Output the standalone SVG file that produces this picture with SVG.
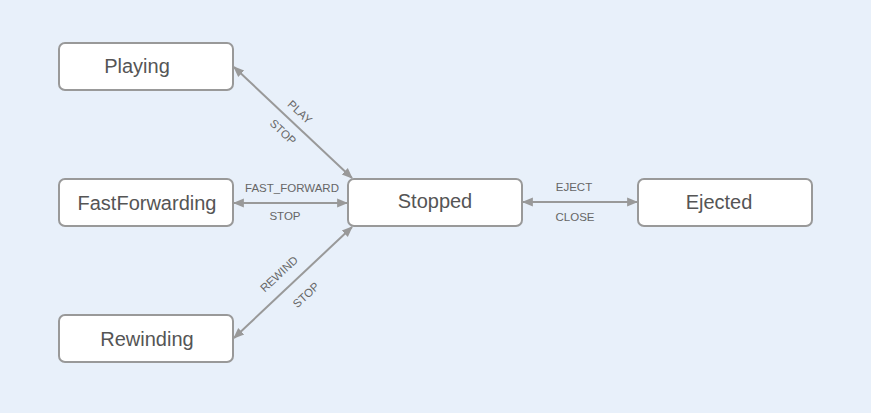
<svg xmlns="http://www.w3.org/2000/svg" width="871" height="413" viewBox="0 0 871 413">
<style>
.node rect{fill:#fff;stroke:#999;stroke-width:2}
.node text{font-family:"Liberation Sans",Arial,sans-serif;font-size:20px;fill:#555;text-anchor:middle;dominant-baseline:central}
.edge{stroke:#999;stroke-width:2;fill:none;marker-start:url(#ah);marker-end:url(#ah)}
.lbl{font-family:"Liberation Sans",Arial,sans-serif;font-size:11.5px;fill:#666;text-anchor:middle;dominant-baseline:central}
</style>
<defs>
<marker id="ah" viewBox="0 0 10 10" refX="9" refY="5" markerWidth="5.5" markerHeight="5.5" orient="auto-start-reverse" markerUnits="strokeWidth">
<path d="M0,1 L10,5 L0,9 z" fill="#999"/>
</marker>
</defs>
<rect width="871" height="413" fill="#e8f0fa"/>
<g id="connectors">
<line class="edge" x1="234" y1="67" x2="352" y2="178"/>
<line class="edge" x1="234" y1="203" x2="347" y2="203"/>
<line class="edge" x1="352" y1="227" x2="234" y2="338"/>
<line class="edge" x1="523" y1="202" x2="637" y2="202"/>
<text class="lbl" transform="translate(300,112) rotate(43)">PLAY</text>
<text class="lbl" transform="translate(283,132) rotate(43)">STOP</text>
<text class="lbl" x="292" y="188">FAST_FORWARD</text>
<text class="lbl" x="285" y="216">STOP</text>
<text class="lbl" transform="translate(279,274) rotate(-43)">REWIND</text>
<text class="lbl" transform="translate(306,295) rotate(-43)">STOP</text>
<text class="lbl" x="574" y="187">EJECT</text>
<text class="lbl" x="575" y="217">CLOSE</text>
</g>
<g id="playing" class="node"><rect x="59" y="43" width="174" height="47" rx="6"/><text x="137" y="66">Playing</text></g>
<g id="fastforwarding" class="node"><rect x="59" y="179" width="174" height="47" rx="6"/><text x="147" y="203">FastForwarding</text></g>
<g id="rewinding" class="node"><rect x="59" y="315" width="174" height="47" rx="6"/><text x="147" y="339">Rewinding</text></g>
<g id="stopped" class="node"><rect x="348" y="179" width="174" height="47" rx="6"/><text x="435" y="201">Stopped</text></g>
<g id="ejected" class="node"><rect x="638" y="179" width="174" height="47" rx="6"/><text x="719" y="202">Ejected</text></g>
</svg>
